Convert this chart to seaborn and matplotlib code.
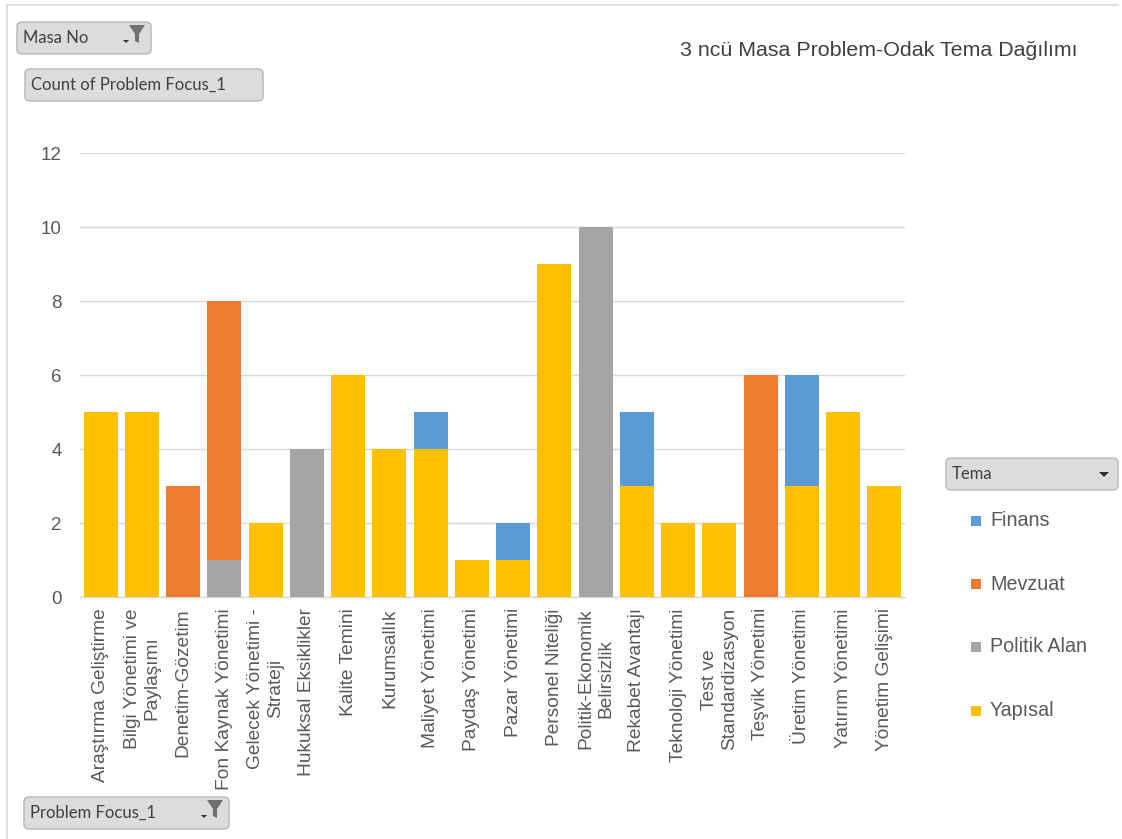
import matplotlib
matplotlib.use("Agg")
import matplotlib.pyplot as plt
from matplotlib.patches import FancyBboxPatch, Polygon, Rectangle
from matplotlib.lines import Line2D
import numpy as np
import pandas as pd
import seaborn as sns

# Problem focus categories (x axis)
categories = [
    "Araştırma Geliştirme", "Bilgi Yönetimi ve\nPaylaşımı", "Denetim-Gözetim",
    "Fon Kaynak Yönetimi", "Gelecek Yönetimi -\nStrateji", "Hukuksal Eksiklikler",
    "Kalite Temini", "Kurumsallık", "Maliyet Yönetimi", "Paydaş Yönetimi",
    "Pazar Yönetimi", "Personel Niteliği", "Politik-Ekonomik\nBelirsizlik",
    "Rekabet Avantajı", "Teknoloji Yönetimi", "Test ve\nStandardizasyon",
    "Teşvik Yönetimi", "Üretim Yönetimi", "Yatırım Yönetimi", "Yönetim Gelişimi",
]

# Counts per theme
yapisal =     [5, 5, 0, 0, 2, 0, 6, 4, 4, 1, 1, 9, 0, 3, 2, 2, 0, 3, 5, 3]
politik_alan = [0, 0, 0, 1, 0, 4, 0, 0, 0, 0, 0, 0, 10, 0, 0, 0, 0, 0, 0, 0]
mevzuat =     [0, 0, 3, 7, 0, 0, 0, 0, 0, 0, 0, 0, 0, 0, 0, 0, 6, 0, 0, 0]
finans =      [0, 0, 0, 0, 0, 0, 0, 0, 1, 0, 1, 0, 0, 2, 0, 0, 0, 3, 0, 0]

series_names = ["Finans", "Mevzuat", "Politik Alan", "Yapısal"]
colors = {"Finans": "#5B9BD5", "Mevzuat": "#ED7D31",
          "Politik Alan": "#A5A5A5", "Yapısal": "#FFC000"}

df = pd.DataFrame({"Problem": categories, "Yapısal": yapisal,
                   "Politik Alan": politik_alan, "Mevzuat": mevzuat,
                   "Finans": finans})
# stacking order bottom -> top
stack = ["Yapısal", "Politik Alan", "Mevzuat", "Finans"]
cum = df[stack].cumsum(axis=1)

sns.set_theme(style="white")
plt.rcParams["font.family"] = ["Liberation Sans", "DejaVu Sans"]

fig = plt.figure(figsize=(11.22, 8.39), dpi=100)
ax = fig.add_axes([0.0713, 0.2884, 0.7353, 0.5292])

# draw cumulative totals from the top layer down so each visible segment is one theme
for name in reversed(stack):
    sns.barplot(x=df["Problem"], y=cum[name], color=colors[name], ax=ax,
                width=0.82, saturation=1, linewidth=0, zorder=3)

ax.set_ylim(0, 12)
ax.set_xlim(-0.5, len(categories) - 0.5)
ax.set_yticks(np.arange(0, 13, 2))
ax.yaxis.grid(True, color="#D9D9D9", linewidth=1, zorder=0)
ax.xaxis.grid(False)
for s in ["left", "right", "top"]:
    ax.spines[s].set_visible(False)
ax.spines["bottom"].set_color("#D9D9D9")
ax.spines["bottom"].set_linewidth(1)
ax.set_xlabel("")
ax.set_ylabel("")
ax.tick_params(axis="y", length=0, pad=13, labelsize=13.5, labelcolor="#595959")
ax.tick_params(axis="x", length=0, pad=8, labelsize=13.8, labelcolor="#595959")
ax.set_xticks(range(len(categories)))
ax.set_xticklabels(categories, rotation=90, ha="center", va="top",
                   multialignment="center", linespacing=1.2)

# title
fig.text(0.783, 0.94, "3 ncü Masa Problem-Odak Tema Dağılımı", ha="center",
         va="center", fontsize=15.4, color="#404040")

# outer frame (top and left edges)
fig.add_artist(Line2D([7 / 1122, 1118 / 1122], [1 - 5 / 839, 1 - 5 / 839],
                      color="#D9D9D9", linewidth=1.2))
fig.add_artist(Line2D([7 / 1122, 7 / 1122], [1 - 5 / 839, 0.0],
                      color="#D9D9D9", linewidth=1.2))

W, H = 1122, 839


def button(x0, y0, x1, y1, label, funnel=False, arrow=False, fs=12):
    bx = FancyBboxPatch((x0 / W, 1 - y1 / H), (x1 - x0) / W, (y1 - y0) / H,
                        boxstyle="round,pad=0,rounding_size=0.005",
                        transform=fig.transFigure, facecolor="#DCDCDC",
                        edgecolor="#B8B8B8", linewidth=1)
    fig.add_artist(bx)
    fig.text((x0 + 6) / W, 1 - ((y0 + y1) / 2) / H, label, ha="left",
             va="center", fontsize=fs, color="#404040", family=["Lato", "DejaVu Sans"])
    if funnel:
        fx = x1 - 14
        fy = y0 + 3
        pts = [(fx - 8, fy), (fx + 8, fy), (fx + 2, fy + 9), (fx + 2, fy + 18),
               (fx - 2, fy + 16), (fx - 2, fy + 9)]
        fig.add_artist(Polygon([(p[0] / W, 1 - p[1] / H) for p in pts],
                               closed=True, transform=fig.transFigure,
                               facecolor="#707070", edgecolor="none"))
        ax_ = x1 - 25
        ay = y0 + 18
        tri = [(ax_ - 3, ay), (ax_ + 3, ay), (ax_, ay + 3)]
        fig.add_artist(Polygon([(p[0] / W, 1 - p[1] / H) for p in tri],
                               closed=True, transform=fig.transFigure,
                               facecolor="#303030", edgecolor="none"))
    if arrow:
        ax_ = x1 - 14
        ay = (y0 + y1) / 2 - 2
        tri = [(ax_ - 5, ay), (ax_ + 5, ay), (ax_, ay + 5)]
        fig.add_artist(Polygon([(p[0] / W, 1 - p[1] / H) for p in tri],
                               closed=True, transform=fig.transFigure,
                               facecolor="#303030", edgecolor="none"))


button(17, 22, 151, 54, "Masa No", funnel=True)
button(25, 69, 263, 101, "Count of Problem Focus_1")
button(24, 797, 229, 829, "Problem Focus_1", funnel=True)
button(946, 458, 1118, 490, "Tema", arrow=True)

# legend entries
legend_y = [521, 584, 647, 711]
for name, ly in zip(series_names, legend_y):
    fig.add_artist(Rectangle(((976 - 5) / W, 1 - (ly + 5) / H), 10 / W, 10 / H,
                             transform=fig.transFigure,
                             facecolor=colors[name], edgecolor="none"))
    fig.text(990 / W, 1 - ly / H, name, ha="left", va="center",
             fontsize=14.2, color="#595959")

fig.savefig("out.png", dpi=100, facecolor="white")
